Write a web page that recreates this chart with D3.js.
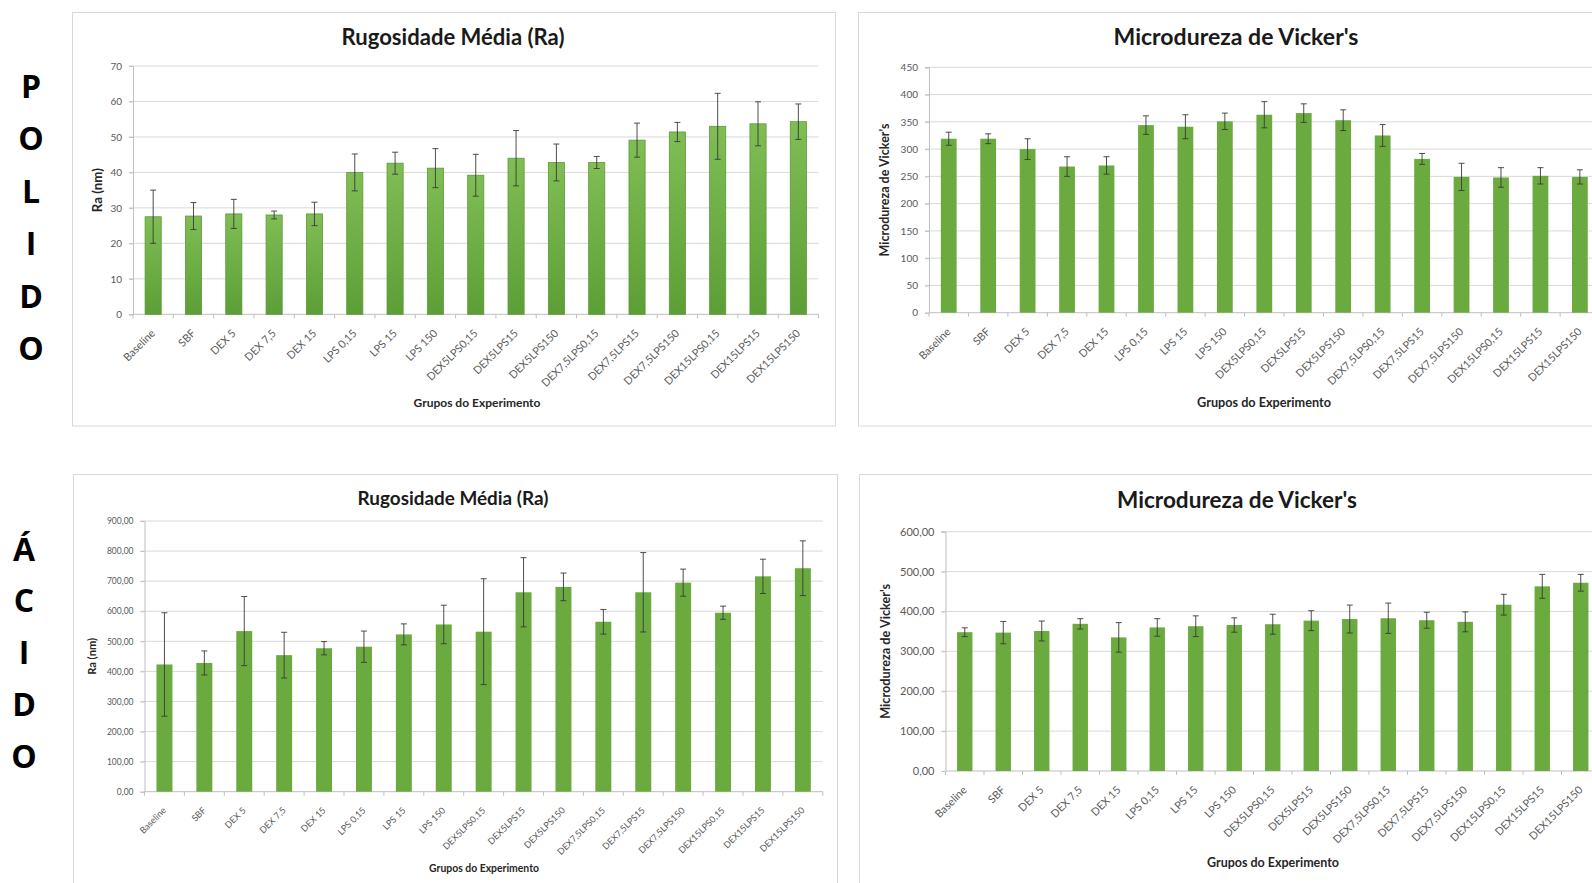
<!DOCTYPE html>
<html>
<head>
<meta charset="utf-8">
<script src="https://cdn.jsdelivr.net/npm/d3@7"></script>
<style>
  html, body { margin: 0; padding: 0; background: #ffffff; }
  svg { display: block; font-family: Lato, "Open Sans", sans-serif; }
</style>
</head>
<body>
<svg id="fig" width="1592" height="883"></svg>
<script>
// ---- Experimental groups (shared by all four charts) ----
const categories = [
  "Baseline", "SBF", "DEX 5", "DEX 7,5", "DEX 15",
  "LPS 0,15", "LPS 15", "LPS 150",
  "DEX5LPS0,15", "DEX5LPS15", "DEX5LPS150",
  "DEX7,5LPS0,15", "DEX7,5LPS15", "DEX7,5LPS150",
  "DEX15LPS0,15", "DEX15LPS15", "DEX15LPS150"
];

// ---- Polished surfaces ----
const raPolido      = [27.5, 27.7, 28.3, 28.0, 28.3, 40.0, 42.6, 41.2, 39.2, 44.0, 42.8, 42.8, 49.1, 51.4, 53.0, 53.7, 54.3];
const raPolidoErr   = [7.5, 3.8, 4.1, 1.1, 3.3, 5.2, 3.1, 5.5, 5.9, 7.8, 5.2, 1.7, 4.8, 2.7, 9.3, 6.2, 5.0];
const vickersPolido    = [319, 319, 300, 268, 270, 344, 341, 351, 363, 366, 353, 325, 282, 249, 248, 251, 249];
const vickersPolidoErr = [12, 9, 19, 18, 16, 17, 22, 15, 24, 17, 19, 20, 10, 25, 18, 15, 13];

// ---- Acid-etched surfaces ----
const raAcido      = [423, 428, 534, 454, 477, 482, 523, 556, 532, 663, 681, 565, 663, 695, 595, 716, 743];
const raAcidoErr   = [172, 40, 115, 76, 22, 52, 35, 64, 176, 115, 46, 41, 132, 45, 22, 57, 91];
const vickersAcido    = [348, 347, 351, 369, 335, 360, 363, 366, 368, 377, 381, 383, 378, 374, 417, 463, 472];
const vickersAcidoErr = [11, 28, 25, 13, 37, 22, 26, 18, 25, 25, 35, 38, 20, 25, 26, 30, 21];

// ---- Axis ticks ----
const raPolidoTicks      = [0, 10, 20, 30, 40, 50, 60, 70];
const vickersPolidoTicks = [0, 50, 100, 150, 200, 250, 300, 350, 400, 450];
const raAcidoTicks       = [0, 100, 200, 300, 400, 500, 600, 700, 800, 900];
const vickersAcidoTicks  = [0, 100, 200, 300, 400, 500, 600];

// ---- Text ----
const titleRa      = "Rugosidade Média (Ra)";
const titleVickers = "Microdureza de Vicker's";
const yTitleRa      = "Ra (nm)";
const yTitleVickers = "Microdureza de Vicker's";
const xTitle = "Grupos do Experimento";
const rowPolido = ["P", "O", "L", "I", "D", "O"];
const rowAcido  = ["Á", "C", "I", "D", "O"];

const fmtInt   = d => String(d);
const fmtComma = d => d3.format(".2f")(d).replace(".", ",");

// ---- Panel layout ----
const panels = [
  { values: raPolido, errors: raPolidoErr, ticks: raPolidoTicks, fmt: fmtInt,
    title: titleRa, yTitle: yTitleRa, gradient: true,
    frame: [72.5, 12.5, 763, 413.5],
    x0: 133, x1: 818.5, yBase: 314.3, yTop: 66,
    titleX: 453, titleY: 37, titleW: 223,
    tickSize: 10, labelSize: 10.8,
    yTitleX: 97, yTitleLen: 44, xTitleX: 477, xTitleY: 403, xTitleW: 127 },
  { values: vickersPolido, errors: vickersPolidoErr, ticks: vickersPolidoTicks, fmt: fmtInt,
    title: titleVickers, yTitle: yTitleVickers, gradient: false,
    frame: [858.5, 12.5, 800, 413.5],
    x0: 929, x1: 1599.6, yBase: 312.7, yTop: 67.3,
    titleX: 1236, titleY: 37, titleW: 245,
    tickSize: 10, labelSize: 10.8,
    yTitleX: 885, yTitleLen: 133, xTitleX: 1264, xTitleY: 403, xTitleW: 134 },
  { values: raAcido, errors: raAcidoErr, ticks: raAcidoTicks, fmt: fmtComma,
    title: titleRa, yTitle: yTitleRa, gradient: false,
    frame: [73.5, 474.5, 764, 500],
    x0: 144.5, x1: 822.8, yBase: 791.7, yTop: 521,
    titleX: 453, titleY: 498.5, titleW: 191,
    tickSize: 8.5, labelSize: 9,
    yTitleX: 92, yTitleLen: 37, xTitleX: 484, xTitleY: 868, xTitleW: 110 },
  { values: vickersAcido, errors: vickersAcidoErr, ticks: vickersAcidoTicks, fmt: fmtComma,
    title: titleVickers, yTitle: yTitleVickers, gradient: false,
    frame: [859.5, 474.5, 800, 500],
    x0: 945.5, x1: 1600, yBase: 771, yTop: 531.7,
    titleX: 1237, titleY: 500, titleW: 240,
    tickSize: 11, labelSize: 10.8,
    yTitleX: 885.5, yTitleLen: 135, xTitleX: 1273, xTitleY: 863, xTitleW: 132 }
];

const svg = d3.select("#fig");

// Gradient fill used by the polished-roughness bars
const defs = svg.append("defs");
const grad = defs.append("linearGradient")
  .attr("id", "barGrad").attr("x1", 0).attr("y1", 0).attr("x2", 0).attr("y2", 1);
grad.append("stop").attr("offset", "0%").attr("stop-color", "#80bd55");
grad.append("stop").attr("offset", "100%").attr("stop-color", "#5c9f36");

function fitWidth(sel, target) {
  const w = sel.node().getComputedTextLength();
  const fs = parseFloat(sel.attr("font-size"));
  sel.attr("font-size", (fs * target / w).toFixed(2));
}

panels.forEach(p => {
  const g = svg.append("g");

  // outer frame
  g.append("rect")
    .attr("x", p.frame[0]).attr("y", p.frame[1])
    .attr("width", p.frame[2]).attr("height", p.frame[3])
    .attr("fill", "#ffffff").attr("stroke", "#d9d9d9").attr("stroke-width", 1);

  const x = d3.scaleBand().domain(categories).range([p.x0, p.x1])
    .paddingInner(0.6).paddingOuter(0.3);
  const y = d3.scaleLinear()
    .domain([0, p.ticks[p.ticks.length - 1]])
    .range([p.yBase, p.yTop]);
  const step = x.step();

  // horizontal gridlines
  g.append("g").selectAll("line").data(p.ticks.slice(1)).join("line")
    .attr("x1", p.x0 - 4).attr("x2", p.x1)
    .attr("y1", d => y(d)).attr("y2", d => y(d))
    .attr("stroke", "#d9d9d9").attr("stroke-width", 1);

  // y axis
  const yAxis = g.append("g").attr("transform", `translate(${p.x0},0)`)
    .call(d3.axisLeft(y).tickValues(p.ticks).tickFormat(p.fmt).tickSize(4).tickPadding(7));
  yAxis.select(".domain").attr("stroke", "#bfbfbf");
  yAxis.selectAll(".tick line").attr("stroke", "#bfbfbf");
  yAxis.selectAll(".tick text")
    .attr("fill", "#595959").attr("font-size", p.tickSize)
    .attr("font-family", "Lato, sans-serif");

  // x axis line and category separators
  g.append("line")
    .attr("x1", p.x0).attr("x2", p.x1)
    .attr("y1", p.yBase).attr("y2", p.yBase)
    .attr("stroke", "#bfbfbf").attr("stroke-width", 1);
  g.append("g").selectAll("line").data(d3.range(categories.length + 1)).join("line")
    .attr("x1", i => p.x0 + i * step).attr("x2", i => p.x0 + i * step)
    .attr("y1", p.yBase).attr("y2", p.yBase + 4)
    .attr("stroke", "#bfbfbf");

  // bars
  g.append("g").selectAll("rect").data(p.values).join("rect")
    .attr("x", (d, i) => x(categories[i]))
    .attr("width", x.bandwidth())
    .attr("y", d => y(d))
    .attr("height", d => p.yBase - y(d))
    .attr("fill", p.gradient ? "url(#barGrad)" : "#6aaa3f")
    .attr("stroke", p.gradient ? "#5a9a36" : "none")
    .attr("stroke-width", 0.8);

  // error bars
  const eb = g.append("g").attr("stroke", "#3a3a3a").attr("stroke-width", 0.9);
  p.values.forEach((v, i) => {
    const cx = x(categories[i]) + x.bandwidth() / 2;
    const hi = y(v + p.errors[i]), lo = y(v - p.errors[i]);
    eb.append("line").attr("x1", cx).attr("x2", cx).attr("y1", hi).attr("y2", lo);
    eb.append("line").attr("x1", cx - 3).attr("x2", cx + 3).attr("y1", hi).attr("y2", hi);
    eb.append("line").attr("x1", cx - 3).attr("x2", cx + 3).attr("y1", lo).attr("y2", lo);
  });

  // rotated category labels
  g.append("g").selectAll("text").data(categories).join("text")
    .attr("transform", d => `translate(${x(d) + x.bandwidth() / 2},${p.yBase + 17}) rotate(-45)`)
    .attr("text-anchor", "end").attr("dy", "0.35em")
    .attr("font-size", p.labelSize).attr("fill", "#595959")
    .text(d => d);

  // chart title
  const t = g.append("text")
    .attr("x", p.titleX).attr("y", p.titleY).attr("dy", "0.35em")
    .attr("text-anchor", "middle").attr("font-weight", 700)
    .attr("font-size", 19).attr("fill", "#1a1a1a")
    .text(p.title);
  fitWidth(t, p.titleW);

  // y axis title
  const yt = g.append("text")
    .attr("transform", `translate(${p.yTitleX},${(p.yBase + p.yTop) / 2}) rotate(-90)`)
    .attr("dy", "0.35em").attr("text-anchor", "middle")
    .attr("font-weight", 700).attr("font-size", 10).attr("fill", "#262626")
    .text(p.yTitle);
  fitWidth(yt, p.yTitleLen);

  // x axis title
  const xt = g.append("text")
    .attr("x", p.xTitleX).attr("y", p.xTitleY).attr("dy", "0.35em")
    .attr("text-anchor", "middle").attr("font-weight", 700)
    .attr("font-size", 10).attr("fill", "#262626")
    .text(xTitle);
  fitWidth(xt, p.xTitleW);
});

// Row labels written vertically down the left margin
function rowLabel(letters, cx, firstBaseline, gap) {
  svg.append("g").selectAll("text").data(letters).join("text")
    .attr("x", cx).attr("y", (d, i) => firstBaseline + i * gap)
    .attr("text-anchor", "middle")
    .attr("font-family", "'Open Sans', Lato, sans-serif")
    .attr("font-weight", 700).attr("font-size", 32).attr("fill", "#000000")
    .text(d => d);
}
rowLabel(rowPolido, 31, 98, 52.4);
rowLabel(rowAcido, 24, 560.5, 51.9);
</script>
</body>
</html>
